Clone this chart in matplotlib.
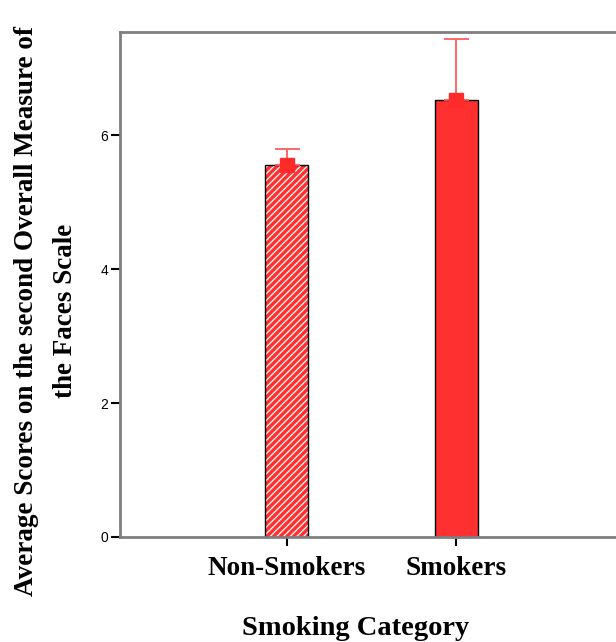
import numpy as np
import matplotlib.pyplot as plt

# Mean scores with upper error bars
categories = ['Non-Smokers', 'Smokers']
means = [5.55, 6.52]
err_upper = [0.25, 0.91]
yticks = [0, 2, 4, 6]

red = '#ff2b2b'
bar_red = '#ff3030'
serif = 'Liberation Serif'

plt.rcParams['hatch.linewidth'] = 0.9

fig = plt.figure(figsize=(6.16, 6.42), dpi=100)
ax = fig.add_axes([0.195, 0.1636, 0.816, 0.7866])

x = np.arange(len(categories))
# hatched fill first (white stripes), then the black outline on top
ax.bar(x[0], means[0], width=0.25, color=bar_red, edgecolor='white',
       linewidth=0, hatch='/////', zorder=2)
ax.bar(x[1], means[1], width=0.25, color=bar_red, linewidth=0, zorder=2)
ax.bar(x, means, width=0.25, fill=False, edgecolor='black', linewidth=1.0,
       zorder=2.5)

ax.errorbar(x, means, yerr=[np.zeros(len(means)), err_upper], fmt='s',
            color=red, ecolor='#ff5a5a', elinewidth=1.3, capsize=9,
            capthick=1.3, markersize=10, zorder=3)

ax.set_xlim(-0.98, 1.98)
ax.set_ylim(0, 7.54)
ax.set_xticks(x)
ax.set_xticklabels(categories, family=serif, fontweight='bold', fontsize=19.5)
ax.set_yticks(yticks)
ax.set_yticklabels([str(v) for v in yticks], family='Liberation Sans',
                   fontsize=10)
ax.tick_params(axis='both', direction='out', length=6.5, width=1.5,
               color='black')
ax.tick_params(axis='x', pad=7)
ax.tick_params(axis='y', pad=2)

for side in ['left', 'bottom', 'top']:
    ax.spines[side].set_color('#7f7f7f')
    ax.spines[side].set_linewidth(2)
ax.spines['right'].set_visible(False)

ax.set_xlabel('Smoking Category', family=serif, fontweight='bold',
              fontsize=20.5)
ax.xaxis.set_label_coords(0.469, -0.156)
ax.set_ylabel('Average Scores on the second Overall Measure of\nthe Faces Scale',
              family=serif, fontweight='bold', fontsize=19.5,
              linespacing=1.75)
ax.yaxis.set_label_coords(-0.083, 0.4475)

fig.savefig('out.png', dpi=100)
